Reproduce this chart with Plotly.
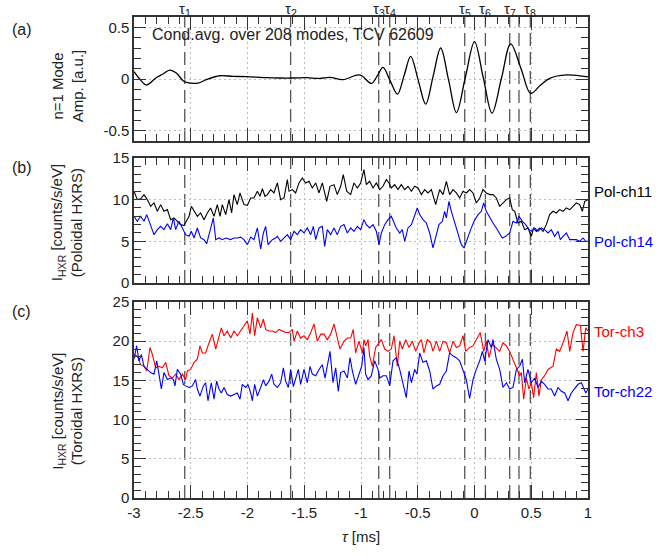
import plotly.graph_objects as go

# ---------------- data ----------------
# (a) conditional-averaged n=1 mode amplitude
t_mode = [-3.0, -2.95, -2.891, -2.803, -2.744, -2.685, -2.627, -2.568, -2.538, -2.436,
          -2.363, -2.245, -2.128, -2.010, -1.834, -1.717, -1.599, -1.482, -1.364, -1.276,
          -1.159, -1.011, -0.908, -0.857, -0.806, -0.742, -0.679, -0.62, -0.562, -0.496,
          -0.430, -0.364, -0.298, -0.228, -0.159, -0.08, 0.0, 0.077, 0.154, 0.237,
          0.319, 0.41, 0.495, 0.58, 0.663, 0.810, 1.0]
amp_mode = [0.071, 0.0, -0.058, 0.015, 0.049, 0.087, 0.058, -0.016, -0.032, -0.039,
            -0.006, 0.032, 0.026, 0.023, 0.013, 0.010, 0.010, 0.013, 0.006, 0.016,
            -0.006, 0.040, -0.042, 0.03, 0.113, -0.02, -0.146, 0.035, 0.22, -0.01,
            -0.243, 0.03, 0.30, -0.01, -0.324, 0.02, 0.362, 0.015, -0.33, 0.005,
            0.34, 0.10, -0.139, -0.06, 0.007, 0.04, 0.02]

# (b) poloidal HXRS
t_pol11 = [-3.000, -2.971, -2.941, -2.912, -2.883, -2.853, -2.824, -2.794, -2.765, -2.736,
           -2.706, -2.677, -2.648, -2.618, -2.589, -2.559, -2.545, -2.515, -2.495, -2.471,
           -2.442, -2.413, -2.383, -2.354, -2.325, -2.295, -2.266, -2.242, -2.222, -2.192,
           -2.163, -2.140, -2.119, -2.090, -2.066, -2.031, -2.001, -1.972, -1.943, -1.913,
           -1.890, -1.869, -1.846, -1.825, -1.796, -1.767, -1.737, -1.708, -1.678, -1.649,
           -1.634, -1.605, -1.576, -1.546, -1.517, -1.488, -1.458, -1.429, -1.399, -1.370,
           -1.341, -1.302, -1.273, -1.238, -1.209, -1.179, -1.156, -1.126, -1.091, -1.062,
           -1.032, -1.003, -0.974, -0.953, -0.924, -0.894, -0.865, -0.835, -0.806, -0.777,
           -0.753, -0.733, -0.703, -0.674, -0.645, -0.615, -0.586, -0.556, -0.527, -0.498,
           -0.468, -0.439, -0.410, -0.380, -0.342, -0.307, -0.277, -0.248, -0.219, -0.189,
           -0.160, -0.131, -0.101, -0.072, -0.043, -0.013, 0.016, 0.046, 0.075, 0.104,
           0.134, 0.163, 0.192, 0.222, 0.251, 0.281, 0.310, 0.333, 0.354, 0.383,
           0.413, 0.442, 0.471, 0.501, 0.521, 0.545, 0.574, 0.604, 0.633, 0.662,
           0.692, 0.721, 0.750, 0.780, 0.809, 0.839, 0.868, 0.897, 0.927, 0.950,
           0.971, 1.000]
pol11 = [11.0, 10.0, 10.1, 10.6, 10.0, 9.2, 9.6, 8.6, 9.4, 8.6,
         8.8, 7.6, 7.8, 7.4, 7.0, 6.9, 7.2, 8.0, 9.2, 8.6,
         8.0, 8.4, 7.6, 8.4, 9.0, 8.0, 9.4, 8.0, 9.4, 8.2,
         10.0, 8.4, 10.6, 9.4, 10.8, 9.4, 9.3, 10.2, 10.2, 11.0,
         10.4, 11.3, 10.4, 10.6, 11.2, 10.8, 12.0, 10.0, 10.2, 12.4,
         11.0, 11.2, 10.8, 12.0, 12.6, 12.0, 12.2, 11.4, 12.0, 10.8,
         12.0, 9.8, 11.6, 11.8, 10.6, 11.6, 13.0, 11.0, 10.6, 12.0,
         11.4, 12.0, 13.6, 11.8, 12.2, 11.4, 12.0, 11.2, 11.6, 12.4,
         12.0, 11.4, 11.8, 11.2, 11.8, 11.2, 11.6, 11.0, 11.6, 11.4,
         10.6, 11.2, 10.8, 11.2, 9.4, 11.2, 10.6, 12.2, 10.6, 11.2,
         10.8, 10.2, 11.0, 10.8, 11.2, 10.8, 9.6, 10.2, 11.2, 10.8,
         10.6, 10.6, 10.2, 9.2, 9.6, 10.0, 10.2, 8.8, 8.6, 7.2,
         7.4, 6.4, 6.6, 5.6, 6.6, 6.2, 6.6, 6.2, 7.0, 8.2,
         8.6, 8.4, 8.8, 8.6, 9.0, 8.8, 9.2, 9.6, 9.4, 8.6,
         9.8, 10.0]

t_pol14 = [-3.000, -2.971, -2.941, -2.912, -2.888, -2.859, -2.824, -2.794, -2.765, -2.736,
           -2.706, -2.677, -2.653, -2.633, -2.604, -2.574, -2.545, -2.515, -2.495, -2.471,
           -2.442, -2.413, -2.383, -2.360, -2.330, -2.301, -2.280, -2.251, -2.222, -2.192,
           -2.148, -2.119, -2.090, -2.060, -2.031, -2.001, -1.972, -1.943, -1.913, -1.884,
           -1.860, -1.840, -1.819, -1.781, -1.752, -1.737, -1.708, -1.678, -1.649, -1.620,
           -1.590, -1.561, -1.532, -1.502, -1.473, -1.443, -1.420, -1.399, -1.370, -1.341,
           -1.320, -1.297, -1.267, -1.238, -1.209, -1.179, -1.150, -1.120, -1.091, -1.062,
           -1.032, -1.003, -0.974, -0.953, -0.924, -0.894, -0.865, -0.841, -0.821, -0.791,
           -0.762, -0.733, -0.709, -0.689, -0.659, -0.636, -0.615, -0.586, -0.556, -0.527,
           -0.504, -0.483, -0.454, -0.424, -0.395, -0.366, -0.342, -0.313, -0.283, -0.263,
           -0.248, -0.225, -0.204, -0.175, -0.145, -0.116, -0.092, -0.063, -0.034, -0.004,
           0.031, 0.060, 0.081, 0.104, 0.134, 0.163, 0.192, 0.222, 0.245, 0.275,
           0.310, 0.339, 0.369, 0.392, 0.422, 0.451, 0.480, 0.501, 0.530, 0.560,
           0.589, 0.618, 0.648, 0.677, 0.706, 0.736, 0.756, 0.780, 0.809, 0.839,
           0.868, 0.897, 0.927, 0.956, 0.980, 1.000]
pol14 = [8.0, 7.4, 8.0, 7.4, 8.2, 7.2, 5.8, 6.4, 6.8, 6.4,
         7.1, 6.4, 7.8, 6.4, 7.4, 6.6, 5.8, 5.6, 6.2, 5.4,
         6.6, 5.4, 5.2, 4.7, 6.2, 7.8, 5.2, 5.4, 5.2, 5.4,
         5.2, 5.4, 5.4, 5.5, 5.2, 4.6, 5.5, 5.2, 6.6, 4.1,
         6.0, 6.8, 4.6, 5.2, 5.4, 5.6, 5.0, 5.4, 5.8, 5.2,
         6.2, 5.8, 6.4, 6.0, 6.6, 5.8, 6.8, 5.2, 6.6, 6.8,
         4.4, 6.4, 5.8, 6.6, 5.8, 6.8, 7.0, 6.0, 6.6, 6.2,
         6.8, 6.4, 7.6, 7.0, 6.6, 7.0, 6.2, 4.6, 6.0, 7.0,
         7.6, 8.0, 7.2, 6.6, 6.0, 6.4, 5.0, 6.6, 7.0, 8.0,
         9.0, 8.2, 7.6, 7.2, 6.0, 4.2, 5.6, 7.0, 7.4, 8.6,
         7.8, 9.8, 8.6, 7.2, 6.0, 4.6, 4.2, 5.4, 6.4, 7.4,
         8.2, 8.6, 9.6, 8.6, 7.8, 7.2, 6.6, 6.0, 5.4, 5.6,
         6.0, 7.4, 7.2, 8.0, 7.4, 7.0, 6.4, 6.2, 6.6, 6.2,
         6.6, 6.4, 6.0, 6.4, 5.6, 6.2, 5.2, 5.6, 6.0, 5.2,
         5.2, 5.2, 5.0, 5.4, 5.0, 5.0]

# (c) toroidal HXRS
t_tor3 = [-3.000, -2.971, -2.941, -2.912, -2.888, -2.859, -2.838, -2.809, -2.780, -2.750,
          -2.721, -2.692, -2.662, -2.633, -2.604, -2.574, -2.545, -2.530, -2.501, -2.471,
          -2.442, -2.419, -2.398, -2.369, -2.339, -2.310, -2.280, -2.251, -2.231, -2.207,
          -2.178, -2.148, -2.119, -2.090, -2.060, -2.031, -2.001, -1.978, -1.957, -1.937,
          -1.913, -1.884, -1.860, -1.840, -1.811, -1.781, -1.752, -1.722, -1.693, -1.664,
          -1.634, -1.605, -1.590, -1.561, -1.532, -1.502, -1.473, -1.443, -1.414, -1.385,
          -1.355, -1.326, -1.297, -1.267, -1.238, -1.209, -1.185, -1.150, -1.120, -1.091,
          -1.068, -1.047, -1.018, -0.988, -0.974, -0.959, -0.938, -0.924, -0.900, -0.871,
          -0.821, -0.791, -0.762, -0.733, -0.709, -0.680, -0.659, -0.636, -0.606, -0.577,
          -0.548, -0.518, -0.489, -0.468, -0.445, -0.416, -0.386, -0.366, -0.336, -0.307,
          -0.277, -0.248, -0.219, -0.189, -0.160, -0.131, -0.101, -0.078, -0.043, -0.013,
          0.016, 0.051, 0.081, 0.104, 0.128, 0.157, 0.187, 0.222, 0.251, 0.281,
          0.310, 0.345, 0.375, 0.398, 0.413, 0.433, 0.457, 0.480, 0.501, 0.521,
          0.545, 0.568, 0.589, 0.618, 0.648, 0.668, 0.692, 0.721, 0.750, 0.780,
          0.815, 0.839, 0.868, 0.897, 0.933, 0.956, 0.980, 1.000]
tor3 = [18.3, 18.1, 17.0, 16.8, 16.2, 19.2, 18.3, 16.6, 16.8, 16.6,
        17.3, 15.6, 15.3, 15.8, 15.1, 15.8, 15.1, 16.2, 16.4, 17.3,
        17.7, 19.4, 18.5, 18.5, 19.8, 20.9, 19.0, 20.7, 21.7, 20.7,
        21.3, 20.4, 21.3, 20.7, 21.3, 21.9, 22.6, 20.9, 23.6, 20.7,
        23.0, 21.7, 22.8, 21.5, 21.3, 21.3, 21.1, 21.5, 21.3, 21.1,
        21.1, 21.5, 20.0, 21.3, 20.4, 20.7, 20.2, 21.1, 22.2, 20.0,
        20.9, 20.9, 20.2, 20.9, 22.2, 20.4, 19.0, 20.0, 20.4, 20.4,
        21.5, 18.5, 20.0, 18.5, 20.2, 19.4, 20.2, 18.1, 16.8, 19.2,
        20.2, 19.0, 18.7, 19.0, 20.7, 16.8, 20.0, 19.0, 20.2, 19.2,
        20.0, 18.7, 19.8, 20.2, 18.5, 20.2, 19.8, 18.7, 20.0, 18.7,
        20.0, 19.8, 18.5, 20.0, 19.2, 19.4, 20.7, 18.7, 19.2, 19.4,
        20.2, 21.1, 18.7, 20.0, 17.9, 19.6, 19.2, 18.7, 19.8, 19.4,
        18.7, 17.5, 16.4, 15.6, 16.0, 12.6, 15.3, 13.9, 14.7, 12.8,
        16.0, 13.0, 15.1, 15.6, 16.4, 16.6, 16.8, 19.0, 18.7, 19.8,
        21.3, 18.7, 21.1, 22.1, 22.0, 18.7, 21.7, 21.3]

t_tor22 = [-3.000, -2.977, -2.956, -2.935, -2.912, -2.883, -2.853, -2.824, -2.800, -2.780,
           -2.759, -2.736, -2.706, -2.677, -2.653, -2.639, -2.618, -2.589, -2.565, -2.545,
           -2.515, -2.486, -2.457, -2.442, -2.419, -2.389, -2.369, -2.348, -2.319, -2.295,
           -2.272, -2.251, -2.231, -2.207, -2.178, -2.148, -2.119, -2.090, -2.066, -2.046,
           -2.016, -1.996, -1.972, -1.957, -1.937, -1.913, -1.884, -1.860, -1.840, -1.811,
           -1.787, -1.767, -1.737, -1.708, -1.684, -1.664, -1.640, -1.620, -1.596, -1.576,
           -1.552, -1.532, -1.502, -1.473, -1.449, -1.429, -1.399, -1.370, -1.341, -1.317,
           -1.297, -1.273, -1.247, -1.223, -1.200, -1.179, -1.150, -1.120, -1.097, -1.076,
           -1.047, -1.018, -0.994, -0.974, -0.959, -0.938, -0.909, -0.880, -0.850, -0.835,
           -0.806, -0.777, -0.747, -0.718, -0.689, -0.659, -0.630, -0.601, -0.577, -0.556,
           -0.527, -0.507, -0.483, -0.454, -0.424, -0.395, -0.366, -0.336, -0.307, -0.277,
           -0.248, -0.219, -0.189, -0.160, -0.131, -0.101, -0.072, -0.043, -0.013, 0.016,
           0.046, 0.069, 0.090, 0.119, 0.148, 0.163, 0.192, 0.222, 0.251, 0.281,
           0.310, 0.339, 0.369, 0.398, 0.422, 0.442, 0.471, 0.501, 0.530, 0.560,
           0.589, 0.618, 0.648, 0.677, 0.706, 0.736, 0.765, 0.795, 0.824, 0.853,
           0.883, 0.912, 0.942, 0.962, 0.980, 1.000]
tor22 = [17.7, 19.4, 17.5, 18.3, 16.8, 16.4, 16.0, 15.8, 17.5, 15.8,
         13.9, 16.0, 15.1, 15.3, 15.1, 14.3, 16.4, 15.8, 14.5, 14.3,
         14.1, 14.3, 15.1, 13.9, 13.0, 14.3, 14.7, 12.4, 14.7, 12.6,
         14.9, 13.9, 13.4, 14.1, 13.2, 13.0, 13.2, 13.4, 12.6, 14.5,
         14.1, 14.5, 13.4, 12.4, 14.5, 13.0, 14.1, 15.1, 14.3, 14.9,
         15.8, 14.5, 14.1, 14.7, 16.6, 14.9, 14.1, 16.4, 14.2, 15.1,
         16.4, 14.5, 16.4, 14.7, 16.8, 15.8, 15.6, 16.4, 17.0, 15.3,
         16.8, 18.7, 14.7, 16.6, 13.6, 16.0, 16.2, 15.3, 17.9, 16.2,
         14.5, 15.8, 16.8, 19.2, 15.8, 15.1, 15.6, 17.5, 16.4, 15.3,
         15.6, 15.6, 14.3, 17.5, 17.9, 16.4, 14.7, 12.8, 16.2, 14.7,
         16.4, 15.8, 18.5, 17.3, 17.5, 16.2, 13.9, 14.3, 14.5, 15.6,
         16.2, 18.5, 18.1, 17.9, 17.5, 16.2, 15.1, 12.7, 15.1, 16.4,
         17.5, 18.7, 17.5, 20.2, 19.2, 20.2, 17.7, 16.4, 14.1, 14.7,
         13.9, 14.1, 16.4, 16.8, 17.7, 14.7, 16.4, 14.7, 15.3, 14.1,
         14.9, 14.5, 13.9, 13.9, 13.0, 14.1, 13.6, 13.4, 12.4, 13.4,
         13.9, 14.5, 14.7, 14.1, 13.4, 13.9]

# characteristic times (dashed lines)
tau_pos = [-2.553, -1.62, -0.844, -0.747, -0.086, 0.096, 0.31, 0.392, 0.492]
tau_lab = ["τ<sub>1</sub>", "τ<sub>2</sub>", "τ<sub>3</sub>", "τ<sub>4</sub>",
           "τ<sub>5</sub>", "τ<sub>6</sub>", "τ<sub>7</sub>", "", "τ<sub>8</sub>"]

# tick labels
x_ticks = [-3, -2.5, -2, -1.5, -1, -0.5, 0, 0.5, 1]
x_tick_text = ["-3", "-2.5", "-2", "-1.5", "-1", "-0.5", "0", "0.5", "1"]
ya_ticks = [-0.5, 0, 0.5]
ya_tick_text = ["-0.5", "0", "0.5"]
yb_ticks = [0, 5, 10, 15]
yc_ticks = [0, 5, 10, 15, 20, 25]

# ---------------- figure ----------------
FONT = "Liberation Sans, Arial, Helvetica, sans-serif"
AX = "#333333"
GRID = "#bdbdbd"

fig = go.Figure()
fig.add_trace(go.Scatter(x=t_mode, y=amp_mode, mode="lines", xaxis="x", yaxis="y",
                         line=dict(color="black", width=1.3, shape="spline", smoothing=1.0)))
fig.add_trace(go.Scatter(x=t_pol11, y=pol11, mode="lines", xaxis="x2", yaxis="y2",
                         line=dict(color="black", width=1.1)))
fig.add_trace(go.Scatter(x=t_pol14, y=pol14, mode="lines", xaxis="x2", yaxis="y2",
                         line=dict(color="#0000ff", width=1.1)))
fig.add_trace(go.Scatter(x=t_tor3, y=tor3, mode="lines", xaxis="x3", yaxis="y3",
                         line=dict(color="#ff0000", width=1.1)))
fig.add_trace(go.Scatter(x=t_tor22, y=tor22, mode="lines", xaxis="x3", yaxis="y3",
                         line=dict(color="#0000ff", width=1.1)))


def xax(anchor, labels):
    return dict(domain=[0, 1], anchor=anchor, range=[-3, 1], automargin=False,
                tickvals=x_ticks, ticktext=x_tick_text, showticklabels=labels,
                showline=True, linecolor=AX, linewidth=1.5, mirror="allticks",
                ticks="inside", ticklen=13, tickwidth=1.2, tickcolor=AX,
                minor=dict(ticks="inside", ticklen=7, tickwidth=1.0, tickcolor=AX,
                           dtick=0.1, showgrid=False),
                showgrid=True, gridcolor=GRID, griddash="2px,3px", gridwidth=1,
                zeroline=False, tickfont=dict(size=15, color="#222", family=FONT))


def yax(anchor, dom, rng, tv, tt, mdt):
    return dict(domain=dom, anchor=anchor, range=rng, tickvals=tv, ticktext=tt,
                automargin=False,
                showline=True, linecolor=AX, linewidth=1.5, mirror="allticks",
                ticks="inside", ticklen=12, tickwidth=1.2, tickcolor=AX,
                minor=dict(ticks="inside", ticklen=7, tickwidth=1.0, tickcolor=AX,
                           dtick=mdt, showgrid=False),
                showgrid=True, gridcolor=GRID, griddash="2px,3px", gridwidth=1,
                zeroline=False, tickfont=dict(size=15, color="#222", family=FONT))


xa3 = xax("y3", True)
xa3["title"] = dict(text="<i>τ</i> [ms]", font=dict(size=15, color="#222", family=FONT),
                    standoff=12)

fig.update_layout(
    width=658, height=556,
    margin=dict(l=134, r=70, t=17, b=58, autoexpand=False),
    paper_bgcolor="white", plot_bgcolor="white",
    showlegend=False,
    font=dict(family=FONT, size=15, color="#222"),
    xaxis=xax("y", False),
    xaxis2=xax("y2", False),
    xaxis3=xa3,
    yaxis=yax("x", [0.742, 1.0], [-0.6, 0.6], ya_ticks, ya_tick_text, 0.1),
    yaxis2=yax("x2", [0.447, 0.707], [0, 15], yb_ticks, [str(v) for v in yb_ticks], 1),
    yaxis3=yax("x3", [0.0, 0.4075], [0, 25], yc_ticks, [str(v) for v in yc_ticks], 1),
)

# dashed tau lines in every panel
shapes = []
for xr, yr in [("x", "y domain"), ("x2", "y2 domain"), ("x3", "y3 domain")]:
    for tp in tau_pos:
        shapes.append(dict(type="line", xref=xr, yref=yr, x0=tp, x1=tp, y0=0, y1=1,
                           line=dict(color="#555555", width=1.3, dash="13px,6px"),
                           layer="below"))
fig.update_layout(shapes=shapes)

ann = []
for tp, lab in zip(tau_pos, tau_lab):
    if lab:
        ann.append(dict(x=tp, xref="x", y=1, yref="paper", yanchor="bottom", xanchor="center",
                        text=lab, showarrow=False, yshift=-4,
                        font=dict(size=15, color="#222", family=FONT)))


def side_label(x, y, text, size=16):
    return dict(x=x, y=y, xref="paper", yref="paper", xanchor="center", yanchor="middle",
                text=text, showarrow=False, font=dict(size=size, color="#222"))


def ytitle(y, text):
    return dict(x=-0.147, y=y, xref="paper", yref="paper", xanchor="center",
                yanchor="middle", text=text, textangle=-90, showarrow=False,
                font=dict(size=15, color="#222"))


def line_label(y, yref, text, color):
    return dict(x=1.0088, y=y, xref="paper", yref=yref, xanchor="left", yanchor="middle",
                text=text, showarrow=False, font=dict(size=15, color=color))


ann += [
    side_label(-0.2467, 0.973, "(a)"),
    side_label(-0.2467, 0.688, "(b)"),
    side_label(-0.2467, 0.387, "(c)"),
    ytitle(0.8565, "n=1 Mode<br>Amp. [a.u.]"),
    ytitle(0.572, "I<sub>HXR</sub> [counts/s/eV]<br>(Poloidal HXRS)"),
    ytitle(0.18, "I<sub>HXR</sub> [counts/s/eV]<br>(Toroidal HXRS)"),
    dict(x=0.0352, y=0.9626, xref="paper", yref="paper", xanchor="left", yanchor="middle",
         text="Cond.avg. over 208 modes, TCV 62609", showarrow=False,
         font=dict(size=16, color="#222")),
    line_label(11.0, "y2", "Pol-ch11", "black"),
    line_label(5.0, "y2", "Pol-ch14", "#0000ff"),
    line_label(21.2, "y3", "Tor-ch3", "#ff0000"),
    line_label(13.56, "y3", "Tor-ch22", "#0000ff"),
]
fig.update_layout(annotations=ann)

# no mode bar; remove the default page margin so the 658x556 figure fills the window
fig.write_html("out.html", config={"displayModeBar": False},
               post_script="document.body.style.margin='0px';")
